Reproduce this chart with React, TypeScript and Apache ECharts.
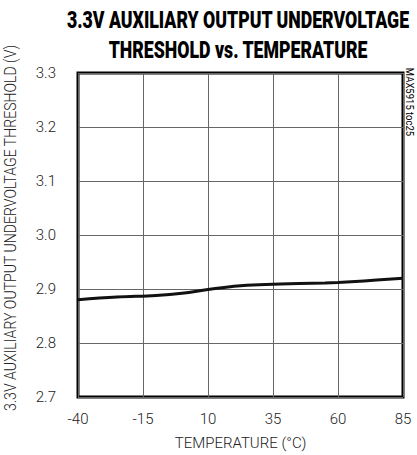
import React, { useEffect, useRef } from "react";
import * as echarts from "echarts";

const temperatures = [-40, -25, -10, 0, 10, 20, 25, 35, 45, 55, 60, 70, 85];
const thresholds = [2.88, 2.885, 2.888, 2.892, 2.899, 2.905, 2.907, 2.909, 2.91, 2.911, 2.912, 2.915, 2.92];
const titleLines = ["3.3V AUXILIARY OUTPUT UNDERVOLTAGE", "THRESHOLD vs. TEMPERATURE"];
const xName = "TEMPERATURE (°C)";
const yName = "3.3V AUXILIARY OUTPUT UNDERVOLTAGE THRESHOLD (V)";
const tocLabel = "MAX5915 toc25";

const FONT = "Roboto, 'Noto Sans', sans-serif";

export default function App() {
  const ref = useRef<HTMLDivElement>(null);
  useEffect(() => {
    if (!ref.current) return;
    const chart = echarts.init(ref.current, null, { renderer: "svg" });
    chart.setOption({
      animation: false,
      backgroundColor: "#fff",
      grid: {
        left: 78,
        right: 14,
        top: 73,
        bottom: 58,
        show: true,
        borderColor: "#000",
        borderWidth: 3,
        backgroundColor: "transparent",
      },
      graphic: [
        {
          type: "text",
          x: 238,
          y: 20,
          scaleX: 0.77,
          style: {
            text: titleLines[0],
            fill: "#000",
            font: `900 23px ${FONT}`,
            textAlign: "center",
            textVerticalAlign: "middle",
          },
        },
        {
          type: "text",
          x: 238,
          y: 50,
          scaleX: 0.77,
          style: {
            text: titleLines[1],
            fill: "#000",
            font: `900 23px ${FONT}`,
            textAlign: "center",
            textVerticalAlign: "middle",
          },
        },
        {
          type: "text",
          x: 410,
          y: 102,
          rotation: -Math.PI / 2,
          scaleX: 0.95,
          style: {
            text: tocLabel,
            fill: "#000",
            font: `10px ${FONT}`,
            textAlign: "center",
            textVerticalAlign: "middle",
          },
        },
        {
          type: "text",
          x: 11,
          y: 228,
          rotation: Math.PI / 2,
          scaleX: 0.88,
          style: {
            text: yName,
            fill: "#222",
            font: `300 16px ${FONT}`,
            textAlign: "center",
            textVerticalAlign: "middle",
          },
        },
      ],
      xAxis: {
        type: "value",
        min: -40,
        max: 85,
        interval: 25,
        name: xName,
        nameLocation: "middle",
        nameGap: 38,
        nameTextStyle: { color: "#222", fontSize: 15, fontWeight: 300, fontFamily: FONT },
        axisLine: { show: false },
        axisTick: { show: false },
        axisLabel: { color: "#222", fontSize: 15, fontWeight: 300, fontFamily: FONT, margin: 14 },
        splitLine: { show: true, lineStyle: { color: "#666", width: 1 } },
      },
      yAxis: {
        type: "value",
        min: 2.7,
        max: 3.3,
        interval: 0.1,
        axisLine: { show: false },
        axisTick: { show: false },
        axisLabel: {
          color: "#222",
          fontSize: 15,
          fontWeight: 300,
          fontFamily: FONT,
          margin: 22,
          formatter: (v: number) => v.toFixed(1),
        },
        splitLine: { show: true, lineStyle: { color: "#666", width: 1 } },
      },
      series: [
        {
          type: "line",
          data: temperatures.map((t, i) => [t, thresholds[i]]),
          smooth: 0.4,
          symbol: "none",
          lineStyle: { color: "#111", width: 3 },
        },
      ],
    });
    return () => chart.dispose();
  }, []);
  return <div ref={ref} style={{ width: 417, height: 455, position: "absolute", left: 0, top: 0 }} />;
}
